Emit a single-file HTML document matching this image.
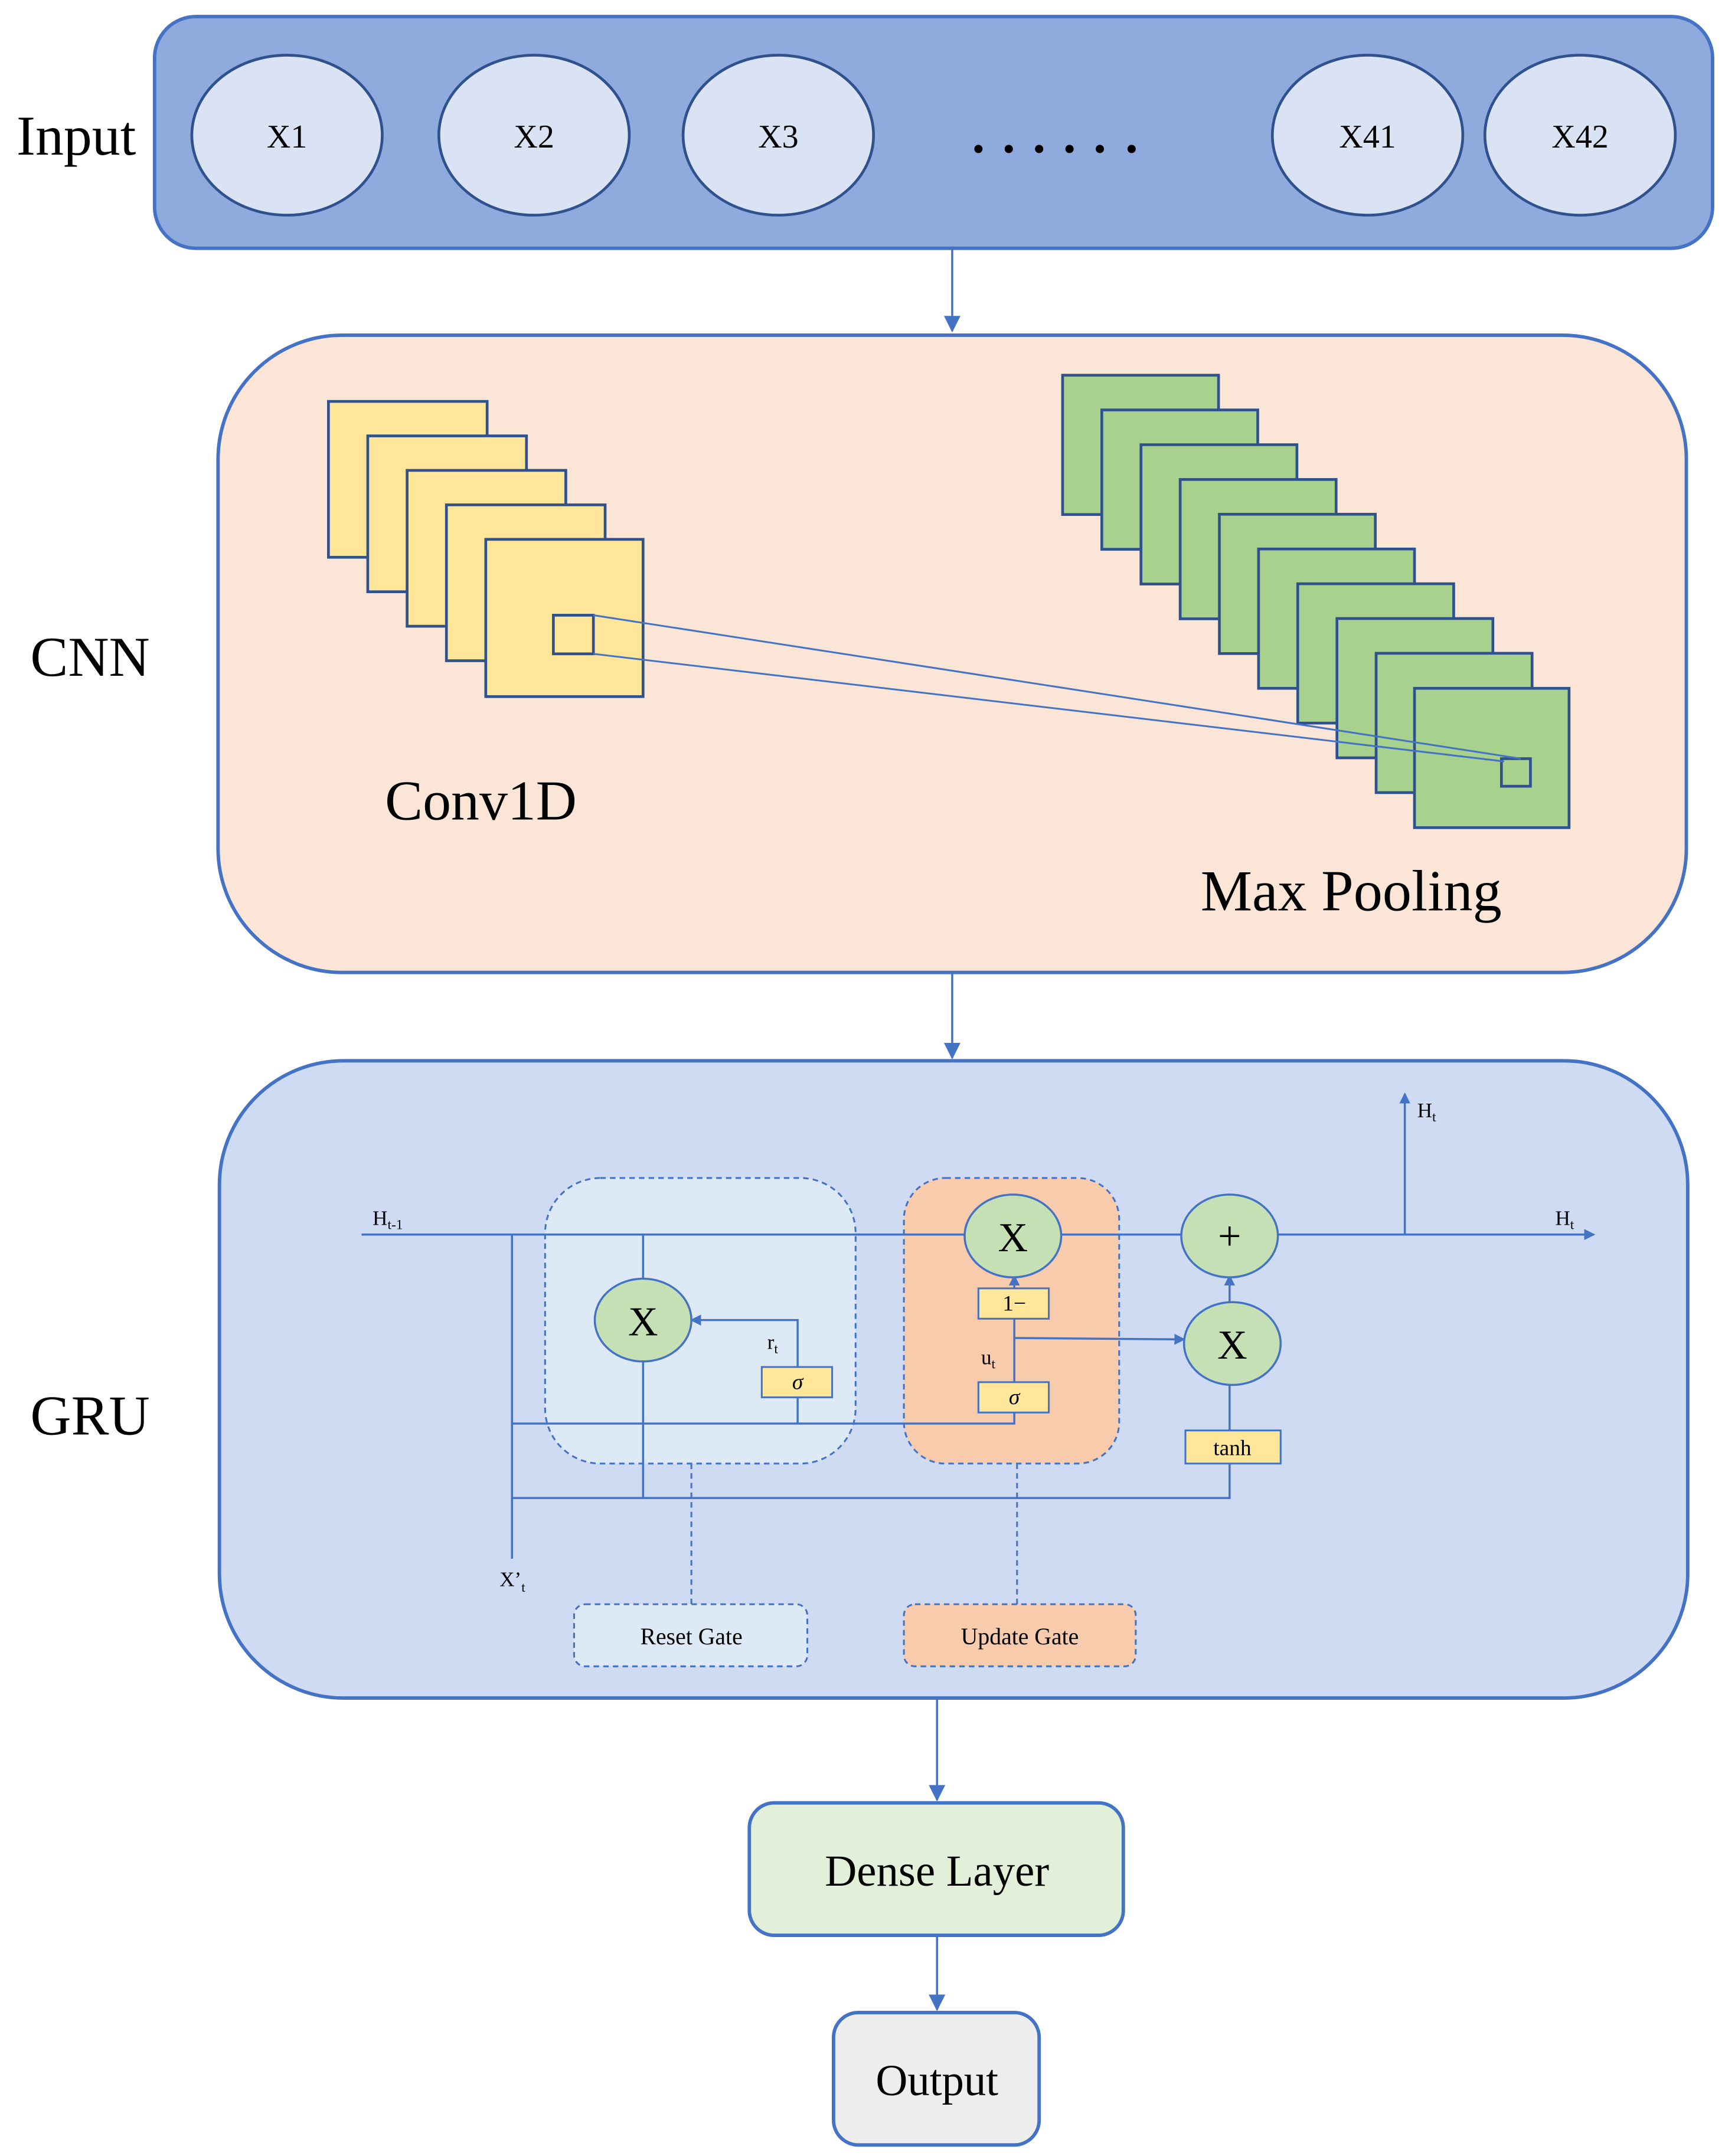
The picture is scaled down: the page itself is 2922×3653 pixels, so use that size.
<!DOCTYPE html>
<html><head><meta charset="utf-8"><style>html,body{margin:0;padding:0;background:#fff}svg{display:block}</style></head><body>
<svg width="2922" height="3653" viewBox="0 0 1250 1563" preserveAspectRatio="none" xmlns="http://www.w3.org/2000/svg" font-family="'Liberation Serif', serif">
<defs><marker id="a" markerWidth="8" markerHeight="8" refX="7" refY="4" orient="auto" markerUnits="userSpaceOnUse"><path d="M0,0 L8,4 L0,8 z" fill="#4472c4"/></marker>
<marker id="b" markerWidth="12" markerHeight="12" refX="11" refY="6" orient="auto" markerUnits="userSpaceOnUse"><path d="M0,0 L12,6 L0,12 z" fill="#4472c4"/></marker></defs>
<rect width="1250" height="1563" fill="#fff"/>
<rect x="112" y="12" width="1129" height="168" rx="30" fill="#8faadc" stroke="#4472c4" stroke-width="2.5"/>
<text x="12" y="112" font-size="41">Input</text>
<g fill="#dae3f3" stroke="#2f528f" stroke-width="2">
<ellipse cx="208" cy="98" rx="69" ry="58"/><ellipse cx="387" cy="98" rx="69" ry="58"/><ellipse cx="564" cy="98" rx="69" ry="58"/><ellipse cx="991" cy="98" rx="69" ry="58"/><ellipse cx="1145" cy="98" rx="69" ry="58"/></g>
<g font-size="24" text-anchor="middle"><text x="208" y="107">X1</text><text x="387" y="107">X2</text><text x="564" y="107">X3</text><text x="991" y="107">X41</text><text x="1145" y="107">X42</text></g>
<g fill="#000"><circle cx="709" cy="108" r="3"/><circle cx="731" cy="108" r="3"/><circle cx="753" cy="108" r="3"/><circle cx="775" cy="108" r="3"/><circle cx="797" cy="108" r="3"/><circle cx="820" cy="108" r="3"/></g>
<line x1="690" y1="180" x2="690" y2="240" stroke="#4472c4" stroke-width="1.5" marker-end="url(#b)"/>
<rect x="158" y="243" width="1064" height="462" rx="90" fill="#fbe5d6" stroke="#4472c4" stroke-width="2.5"/>
<text x="22" y="490" font-size="41">CNN</text>
<g fill="#ffe699" stroke="#2f528f" stroke-width="2">
<rect x="238" y="291" width="115" height="113"/><rect x="266.5" y="316" width="115" height="113"/><rect x="295" y="341" width="115" height="113"/><rect x="323.5" y="366" width="115" height="113"/><rect x="352" y="391" width="114" height="114"/>
<rect x="401" y="446" width="29" height="28"/></g>
<g fill="#a9d18e" stroke="#2f528f" stroke-width="2">
<rect x="770" y="272" width="113" height="101"/><rect x="798.4" y="297.2" width="113" height="101"/><rect x="826.8" y="322.4" width="113" height="101"/><rect x="855.2" y="347.6" width="113" height="101"/><rect x="883.6" y="372.8" width="113" height="101"/><rect x="912" y="398" width="113" height="101"/><rect x="940.4" y="423.2" width="113" height="101"/><rect x="968.8" y="448.4" width="113" height="101"/><rect x="997.2" y="473.6" width="113" height="101"/><rect x="1025" y="499" width="112" height="101"/>
<rect x="1088" y="550" width="21" height="20"/></g>
<g stroke="#4472c4" stroke-width="1.3"><line x1="430" y1="446" x2="1102" y2="550"/><line x1="430" y1="474" x2="1090" y2="552"/></g>
<text x="279" y="594" font-size="41">Conv1D</text>
<text x="870" y="660" font-size="42">Max Pooling</text>
<line x1="690" y1="705" x2="690" y2="767" stroke="#4472c4" stroke-width="1.5" marker-end="url(#b)"/>
<rect x="159" y="769" width="1064" height="462" rx="90" fill="#cedbf2" stroke="#4472c4" stroke-width="2.5"/>
<text x="22" y="1040" font-size="41">GRU</text>
<rect x="395" y="854" width="225" height="207" rx="40" fill="#dee9f6" stroke="#4472c4" stroke-width="1.3" stroke-dasharray="4,3"/>
<rect x="655" y="854" width="156" height="207" rx="30" fill="#f8cbad" stroke="#4472c4" stroke-width="1.3" stroke-dasharray="4,3"/>
<g stroke="#4472c4" stroke-width="1.5" fill="none">
<line x1="262" y1="895" x2="1155" y2="895" marker-end="url(#a)"/>
<line x1="1018" y1="895" x2="1018" y2="793" marker-end="url(#a)"/>
<line x1="371" y1="895" x2="371" y2="1130"/>
<line x1="466" y1="895" x2="466" y2="1086"/>
<polyline points="371,1032 735,1032 735,1024"/>
<line x1="578" y1="1013" x2="578" y2="1032"/>
<polyline points="578,991 578,957 501,957" marker-end="url(#a)"/>
<line x1="735" y1="1002" x2="735" y2="956"/>
<line x1="735" y1="934" x2="735" y2="925" marker-end="url(#a)"/>
<line x1="735" y1="970" x2="858" y2="971" marker-end="url(#a)"/>
<line x1="891" y1="945" x2="891" y2="925" marker-end="url(#a)"/>
<line x1="891" y1="1003" x2="891" y2="1037"/>
<polyline points="371,1086 891,1086 891,1061"/>
</g>
<g stroke="#4472c4" stroke-width="1.3" stroke-dasharray="4,3"><line x1="501" y1="1061" x2="501" y2="1163"/><line x1="737" y1="1061" x2="737" y2="1163"/></g>
<g fill="#c5e0b4" stroke="#4472c4" stroke-width="1.5">
<ellipse cx="734" cy="896" rx="35" ry="30"/><ellipse cx="891" cy="896" rx="35" ry="30"/><ellipse cx="466" cy="957" rx="35" ry="30"/><ellipse cx="893" cy="974" rx="35" ry="30"/></g>
<g font-size="30" text-anchor="middle"><text x="734" y="907">X</text><text x="466" y="968">X</text><text x="893" y="985">X</text><text x="891" y="906">+</text></g>
<g fill="#ffe699" stroke="#4472c4" stroke-width="1.3">
<rect x="709" y="934" width="51" height="22"/><rect x="709" y="1002" width="51" height="22"/><rect x="552" y="991" width="51" height="22"/><rect x="859" y="1037" width="69" height="24"/></g>
<g font-size="16" text-anchor="middle"><text x="735" y="950">1−</text><text x="735" y="1018" font-style="italic">σ</text><text x="578" y="1007" font-style="italic">σ</text><text x="893" y="1055">tanh</text></g>
<g font-size="15"><text x="270" y="888">H<tspan font-size="10" dy="3">t-1</tspan></text><text x="1127" y="888">H<tspan font-size="10" dy="3">t</tspan></text><text x="1027" y="810">H<tspan font-size="10" dy="3">t</tspan></text>
<text x="556" y="978">r<tspan font-size="10" dy="3">t</tspan></text><text x="711" y="989">u<tspan font-size="10" dy="3">t</tspan></text><text x="362" y="1150">X’<tspan font-size="10" dy="4">t</tspan></text></g>
<rect x="416" y="1163" width="169" height="45" rx="8" fill="#dee9f6" stroke="#4472c4" stroke-width="1.3" stroke-dasharray="4,3"/>
<rect x="655" y="1163" width="168" height="45" rx="8" fill="#f8cbad" stroke="#4472c4" stroke-width="1.3" stroke-dasharray="4,3"/>
<g font-size="17" text-anchor="middle"><text x="501" y="1192">Reset Gate</text><text x="739" y="1192">Update Gate</text></g>
<line x1="679" y1="1231" x2="679" y2="1305" stroke="#4472c4" stroke-width="1.5" marker-end="url(#b)"/>
<rect x="543" y="1307" width="271" height="96" rx="18" fill="#e2f0d9" stroke="#4472c4" stroke-width="2.5"/>
<text x="679" y="1367" font-size="32" text-anchor="middle">Dense Layer</text>
<line x1="679" y1="1403" x2="679" y2="1457" stroke="#4472c4" stroke-width="1.5" marker-end="url(#b)"/>
<rect x="604" y="1459" width="149" height="96" rx="18" fill="#ededed" stroke="#4472c4" stroke-width="2.5"/>
<text x="679" y="1519" font-size="32" text-anchor="middle">Output</text>
</svg>
</body></html>
